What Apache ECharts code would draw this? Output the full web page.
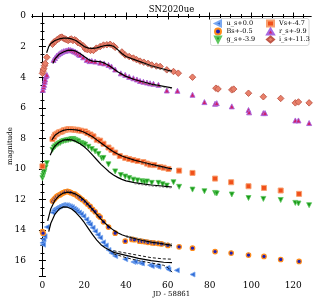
<!DOCTYPE html>
<html><head><meta charset="utf-8">
<script src="https://cdn.jsdelivr.net/npm/echarts@6/dist/echarts.min.js"></script>
<style>html,body{margin:0;padding:0;background:#fff}#c{width:319px;height:306px}</style>
</head><body><div id="c"></div>
<script>
// ---- data (x = JD - 58861, y = magnitude incl. offset) ----
const bandNames = ['u_s+0.0','Bs+-0.5','g_s+-3.9','Vs+-4.7','r_s+-9.9','i_s+-11.3'];
const xMajorTicks = [0,20,40,60,80,100,120];
const xMinorTicks = [-5,0,5,10,15,20,25,30,35,40,45,50,55,60,65,70,75,80,85,90,95,100,105,110,115,120,125];
const yTickLabels = [0,2,4,6,8,10,12,14,16];

const uPts = [[0,14.83],[0.3,14.95],[0.5,14.61],[1,14.4],[2.1,13.8],[4.8,12.85],[5.5,12.7],[6.1,12.6],[6.9,12.55],[7.7,12.48],[8.5,12.42],[9.3,12.37],[10.1,12.35],[10.9,12.37],[11.7,12.37],[12.5,12.42],[13.3,12.45],[14.1,12.5],[15,12.6],[15.8,12.68],[16.5,12.76],[17.5,12.85],[18.5,12.95],[19.6,13.09],[21,13.3],[22,13.52],[22.8,13.63],[24,13.85],[25.2,14.07],[26.5,14.3],[27.6,14.5],[29,14.8],[30.3,15.0],[31.6,15.3],[33,15.5],[34.8,15.7],[39.6,15.9],[43.5,16.08],[44.4,16.07],[46.7,16.15],[47.6,16.18],[51.5,16.29],[52.3,16.35],[54.7,16.35],[55.5,16.39],[59.8,16.46],[60.3,16.57],[64.3,16.63],[71.8,16.9]];
const bPts = [[0,14.1],[0.3,14.2],[4.8,12.1],[5.5,12.0],[6.1,11.9],[6.9,11.8],[7.7,11.72],[8.5,11.68],[9.3,11.6],[10.1,11.55],[10.9,11.5],[12,11.46],[12.8,11.5],[13.6,11.55],[14.8,11.63],[15.6,11.65],[16.5,11.75],[17.3,11.82],[18,11.9],[19,12.0],[20.4,12.15],[21.5,12.3],[22.8,12.45],[24,12.65],[25.2,12.8],[26.8,13.05],[27.6,13.15],[29.2,13.46],[31.6,13.8],[34.8,14.2],[39.6,14.72],[42.8,14.61],[44,14.63],[46.4,14.72],[47.6,14.73],[49.1,14.76],[50.5,14.8],[52.3,14.83],[53.5,14.85],[55.5,14.87],[57,14.9],[60,15.0],[65.4,15.09],[71.8,15.18],[82.6,15.4],[90.3,15.5],[98.6,15.63],[106,15.72],[114,15.92],[122.8,16.05]];
const gPts = [[0,10.6],[0.3,10.45],[0.6,10.3],[1,10.15],[1.5,9.9],[2.1,9.62],[4.8,8.75],[5.5,8.6],[6.1,8.52],[6.9,8.42],[7.7,8.35],[8.5,8.3],[9.3,8.22],[10.1,8.18],[10.9,8.15],[11.7,8.13],[12.5,8.1],[13.3,8.08],[14.1,8.05],[14.8,8.04],[15.6,8.1],[16.5,8.15],[17.2,8.2],[18.5,8.3],[19.5,8.35],[20.4,8.41],[22,8.55],[23.6,8.7],[25.2,8.85],[26.8,9.02],[28.4,9.3],[29.2,9.28],[31.6,9.7],[34.8,10.16],[37.5,10.4],[39.6,10.5],[41.5,10.6],[43.5,10.7],[45.5,10.75],[47.6,10.8],[48.8,10.85],[50,10.82],[52.3,10.91],[55.5,10.91],[57.5,11.0],[59.5,11.09],[62.7,10.87],[65.4,11.17],[71.8,11.35],[77.5,11.46],[82.6,11.57],[83.4,11.6],[90.6,11.67],[98.6,11.9],[105.7,11.96],[114,12.03],[121,12.22],[122.5,12.26],[127.6,12.37]];
const vPts = [[0,9.83],[4.8,8.05],[5.5,7.9],[6.1,7.76],[6.9,7.7],[7.7,7.62],[8.5,7.58],[9.3,7.55],[10.1,7.48],[10.9,7.45],[11.7,7.42],[12.5,7.4],[13.3,7.39],[14.1,7.42],[14.9,7.42],[15.7,7.45],[16.5,7.44],[17.3,7.48],[18.5,7.5],[20.4,7.55],[21.5,7.65],[23,7.75],[24.4,7.87],[26,8.09],[27.6,8.15],[29.2,8.35],[31.6,8.6],[33,8.75],[34.8,8.93],[37,9.15],[39.6,9.28],[41.5,9.35],[43.5,9.42],[45.5,9.48],[48.3,9.55],[50,9.65],[51.5,9.72],[53.5,9.75],[56.3,9.87],[58,9.92],[60.3,10.0],[65.4,10.11],[71.8,10.26],[82.6,10.63],[90.3,10.87],[98.6,11.13],[106,11.24],[114,11.41],[122.8,11.63]];
const rPts = [[0.2,4.83],[0.5,4.65],[0.8,4.5],[1.1,4.3],[1.3,4.15],[1.6,3.95],[2.1,3.85],[5.3,2.87],[6,2.75],[6.8,2.6],[7.7,2.5],[8.5,2.42],[9.3,2.35],[10.1,2.3],[10.9,2.28],[11.7,2.25],[12.5,2.2],[13.3,2.22],[14.1,2.25],[14.9,2.3],[15.6,2.33],[16.5,2.4],[17.3,2.5],[18,2.55],[19.5,2.7],[21.2,2.87],[22.5,2.95],[23.6,2.94],[25.2,2.98],[27.6,3.05],[29.5,3.1],[31.6,3.2],[33,3.3],[34.8,3.5],[37.5,3.75],[39.6,3.85],[41.5,3.98],[43.5,4.07],[45.2,4.15],[46.7,4.25],[48.3,4.3],[50,4.35],[51.5,4.4],[53.1,4.43],[55.5,4.5],[59.5,4.87],[64.6,4.89],[71.8,5.15],[77.5,5.63],[82.6,5.74],[83.4,5.7],[90.6,5.91],[98.6,6.15],[98.9,6.3],[105.7,6.35],[106.5,6.35],[121,6.83],[122.5,6.83],[127.6,7.0]];
const iPts = [[0,3.75],[0.3,3.6],[0.6,3.45],[1,3.25],[1.3,3.1],[2.1,2.7],[4.8,1.85],[5.5,1.7],[6.2,1.65],[7,1.55],[7.7,1.5],[8.5,1.4],[9.3,1.38],[10,1.45],[10.8,1.5],[11.5,1.55],[12.3,1.6],[13,1.55],[13.8,1.5],[14.6,1.6],[15.4,1.55],[16.2,1.62],[17,1.75],[18,1.8],[19.5,1.95],[20.5,2.15],[21.5,2.2],[23,2.25],[24.4,2.25],[25.8,2.1],[27.6,2.0],[29.2,1.9],[30.8,1.88],[32.4,1.85],[34,1.95],[34.8,2.05],[38,2.35],[39.6,2.55],[41.5,2.65],[43.5,2.75],[45,2.85],[46.7,2.95],[48.5,3.02],[50.5,3.1],[52.3,3.2],[54.5,3.27],[56.3,3.3],[59.5,3.52],[62.7,3.63],[65,3.74],[71.8,4.0],[83,4.72],[84,4.77],[90.6,4.83],[91.5,4.78],[98.6,5.05],[105.7,5.28],[114,5.39],[121,5.68],[122.5,5.62],[127.6,5.68]];

// model fits
const uFit = [[3,14.1],[4,13.55],[6,12.95],[8,12.62],[10,12.48],[12,12.5],[14,12.62],[16,12.85],[18,13.15],[20,13.5],[22,13.9],[24,14.3],[26,14.65],[28,14.95],[30,15.15],[32,15.3],[34,15.45],[40,15.65],[46,15.85],[52,16.0],[58,16.1],[62,16.13]];
const uFitHi = [[34,15.35],[40,15.5],[46,15.65],[52,15.8],[58,15.88],[62,15.9]];
const uFitLo = [[34,15.55],[40,15.8],[46,16.0],[52,16.15],[58,16.3],[60,16.45],[62,16.75]];
const bFit = [[2.5,13.4],[4,12.6],[6,12.05],[8,11.75],[10,11.58],[12,11.52],[14,11.55],[16,11.65],[18,11.82],[20,12.05],[22,12.35],[24,12.65],[26,12.98],[28,13.28],[30,13.55],[32,13.8],[34,14.0],[36,14.17],[38,14.3],[40,14.4],[44,14.55],[48,14.68],[52,14.78],[56,14.86],[60,14.95],[62,15.0]];
const bFitHi = [[40,14.35],[44,14.48],[48,14.6],[52,14.7],[56,14.78],[60,14.86],[62,14.9]];
const bFitLo = [[40,14.45],[44,14.62],[48,14.76],[52,14.86],[56,14.95],[60,15.05],[62,15.1]];
const gFit = [[3.7,9.1],[5,8.7],[6,8.5],[8,8.25],[10,8.12],[12,8.08],[14,8.1],[16,8.2],[18,8.35],[20,8.55],[22,8.8],[24,9.1],[26,9.4],[28,9.7],[30,9.95],[32,10.2],[34,10.4],[36,10.55],[38,10.68],[40,10.78],[44,10.9],[48,10.98],[52,11.05],[56,11.1],[60,11.15],[62,11.18]];
const gFitLo = [[44,10.97],[48,11.05],[52,11.12],[56,11.17],[60,11.22],[62,11.25]];
const vFit = [[4.5,8.1],[6,7.8],[8,7.6],[10,7.48],[12,7.42],[14,7.42],[16,7.45],[18,7.5],[20,7.6],[22,7.75],[24,7.9],[26,8.1],[28,8.3],[30,8.5],[32,8.7],[34,8.87],[36,9.02],[38,9.15],[40,9.25],[44,9.42],[48,9.56],[52,9.7],[56,9.82],[60,9.95],[62,10.0]];
const vFitLo = [[48,9.6],[52,9.75],[56,9.87],[60,10.0],[62,10.06]];
const rFit = [[5,3.1],[6,2.8],[8,2.5],[10,2.35],[12,2.25],[14,2.23],[16,2.3],[18,2.45],[20,2.65],[22,2.85],[24,2.95],[26,2.97],[28,3.0],[30,3.1],[32,3.25],[34,3.45],[36,3.65],[38,3.8],[40,3.95],[44,4.15],[48,4.3],[52,4.45],[56,4.55],[60,4.65],[62,4.7]];
const rFitLo = [[48,4.35],[52,4.5],[56,4.6],[60,4.71],[62,4.76]];
const iFit = [[2,2.4],[3,2.0],[4,1.8],[6,1.6],[8,1.5],[10,1.45],[12,1.45],[14,1.5],[16,1.6],[18,1.8],[20,2.0],[22,2.1],[24,2.12],[26,2.08],[28,2.0],[30,1.93],[32,1.9],[34,1.98],[36,2.2],[38,2.45],[40,2.65],[44,2.85],[48,3.05],[52,3.25],[56,3.4],[60,3.55],[62,3.6]];
const iFitLo = [[48,3.1],[52,3.3],[56,3.46],[60,3.62],[62,3.68]];

const serif = 'DejaVu Serif';
const chart = echarts.init(document.getElementById('c'), null, {renderer:'canvas'});

function pts(name, data, symbol, size, fill, edge, bw){
  return {type:'scatter', name, data, symbol, symbolSize:size, z:3,
    itemStyle:{color:fill, borderColor:edge, borderWidth:bw, opacity:1}};
}
function fit(data, dash, color, w){
  return {type:'line', data, showSymbol:false, symbol:'none', silent:true, z:4,
    lineStyle:{color:color||'#000', width:w||1.2, type:dash||'solid'}};
}
const LEFT='path://M10,0 L10,10 L0,5 Z', DOWN='path://M0,0 L10,0 L5,10 Z';

const series = [
  pts(bandNames[0], uPts, LEFT, 5, '#2f6bd6', '#7aa8f0', 0.8),
  pts(bandNames[1], bPts, 'circle', 4.5, '#1f1fb4', '#ff8c1a', 1.2),
  pts(bandNames[2], gPts, DOWN, 5, '#1a9a1a', '#60c860', 0.8),
  pts(bandNames[3], vPts, 'rect', 5, '#f0501a', '#f8a070', 1),
  pts(bandNames[4], rPts, 'triangle', 5, '#d0206a', '#a868e0', 0.9),
  pts(bandNames[5], iPts, 'diamond', 6.5, '#e8806a', '#c05848', 0.9),
  fit(uFit), fit(uFitHi,[3,2],'#000',0.9), fit(uFitLo,[3,2],'#000',0.9),
  fit(bFit), fit(bFitHi,[2,1.5],'#666',0.8), fit(bFitLo,[2,1.5],'#666',0.8),
  fit(gFit), fit(gFitLo,[2,1.5],'#777',0.8),
  fit(vFit), fit(vFitLo,[2,1.5],'#777',0.8),
  fit(rFit), fit(rFitLo,[2,1.5],'#777',0.8),
  fit(iFit), fit(iFitLo,[2,1.5],'#777',0.8)
];

const grid = {left:32, right:8, top:16, bottom:30, containLabel:false, outerBoundsMode:'none'};
const axLine = {show:true, lineStyle:{color:'#000', width:1}};
const xBase = {type:'value', min:-5, max:128.5, splitLine:{show:false}, axisLine:axLine};
const lbl = {fontFamily:serif, fontSize:9, color:'#000'};
const legText = {fontFamily:serif, fontSize:6.5, color:'#000', lineHeight:8};

chart.setOption({
  animation:false,
  grid,
  legend:[
    {orient:'vertical', left:214, top:19.5, itemGap:0, itemWidth:7, itemHeight:6, z:20, padding:0,
     textStyle:legText, data:bandNames.slice(0,3), selectedMode:false},
    {orient:'vertical', left:266, top:19.5, itemGap:0, itemWidth:7, itemHeight:6, z:20, padding:0,
     textStyle:legText, data:bandNames.slice(3,6), selectedMode:false}
  ],
  graphic:[
    {type:'rect', z:15, shape:{x:210.5, y:18.5, width:98.5, height:27, r:2}, style:{fill:'rgba(255,255,255,0.85)', stroke:'#cccccc', lineWidth:0.8}},
    {type:'text', x:171.5, y:10, style:{text:'SN2020ue', font:'8.5px "DejaVu Serif"', fill:'#000', textAlign:'center', textVerticalAlign:'middle'}}
  ],
  xAxis:[
    Object.assign({}, xBase, {position:'bottom',
      axisTick:{show:true, inside:true, length:3.5, lineStyle:{color:'#000'}, customValues:xMajorTicks},
      axisLabel:Object.assign({show:true, margin:5, customValues:xMajorTicks}, lbl),
      name:'JD - 58861', nameLocation:'middle', nameGap:15, nameMoveOverlap:false, nameTextStyle:{fontFamily:serif, fontSize:7, color:'#000'}}),
    Object.assign({}, xBase, {position:'bottom', axisLine:{show:false},
      axisTick:{show:true, inside:true, length:2, lineStyle:{color:'#000'}, customValues:xMinorTicks},
      axisLabel:{show:false}}),
    Object.assign({}, xBase, {position:'top',
      axisTick:{show:true, inside:true, length:3.5, lineStyle:{color:'#000'}, customValues:xMajorTicks},
      axisLabel:{show:false}}),
    Object.assign({}, xBase, {position:'top', axisLine:{show:false},
      axisTick:{show:true, inside:true, length:2, lineStyle:{color:'#000'}, customValues:xMinorTicks},
      axisLabel:{show:false}})
  ],
  yAxis:[
    {type:'value', inverse:true, min:0, max:17, interval:2, position:'left', splitLine:{show:false}, axisLine:axLine,
     axisTick:{show:true, inside:true, length:3.5, lineStyle:{color:'#000'}},
     minorTick:{show:true, splitNumber:4, length:2, lineStyle:{color:'#000'}},
     axisLabel:Object.assign({margin:6, customValues:yTickLabels}, lbl),
     name:'magnitude', nameLocation:'middle', nameGap:18, nameRotate:90, nameMoveOverlap:false, nameTextStyle:{fontFamily:serif, fontSize:7, color:'#000'}},
    {type:'value', inverse:true, min:0, max:17, interval:2, position:'right', splitLine:{show:false}, axisLine:axLine,
     axisTick:{show:true, inside:true, length:3.5, lineStyle:{color:'#000'}},
     minorTick:{show:true, splitNumber:4, length:2, lineStyle:{color:'#000'}},
     axisLabel:{show:false}}
  ],
  series
});
</script></body></html>
